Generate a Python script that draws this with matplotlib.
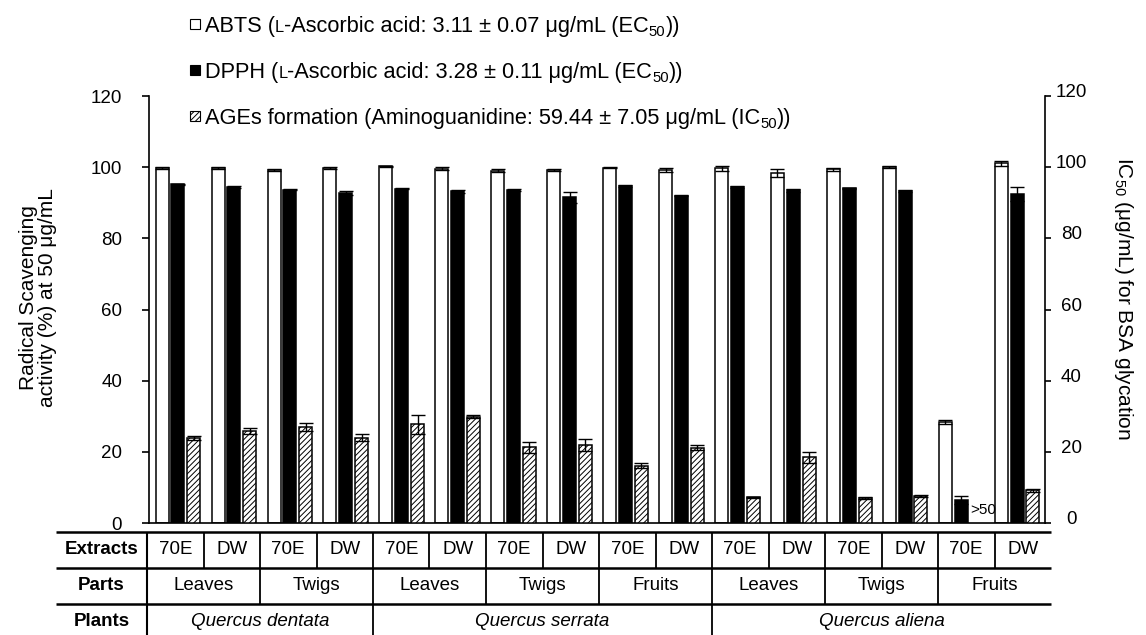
import numpy as np
import matplotlib
matplotlib.use('Agg')
import matplotlib.pyplot as plt
from matplotlib.patches import Rectangle
from matplotlib.lines import Line2D
import matplotlib.transforms as mtransforms

plt.rcParams['font.family'] = ['Liberation Sans', 'DejaVu Sans']
plt.rcParams['mathtext.fontset'] = 'custom'
plt.rcParams['mathtext.rm'] = 'Liberation Sans'
plt.rcParams['mathtext.it'] = 'Liberation Sans:italic'
plt.rcParams['mathtext.bf'] = 'Liberation Sans:bold'
plt.rcParams['hatch.linewidth'] = 0.7

# ---------------- data ----------------
extracts = ['70E', 'DW'] * 8
parts = ['Leaves', 'Twigs', 'Leaves', 'Twigs', 'Fruits', 'Leaves', 'Twigs', 'Fruits']
plants = ['Quercus dentata', 'Quercus serrata', 'Quercus aliena']
plant_spans = [4, 6, 6]

abts = [99.7, 99.7, 99.2, 99.8, 100.3, 99.6, 99.0, 99.3, 99.9, 99.2, 99.7, 98.3, 99.5, 100.1, 28.4, 101.1]
abts_err = [0.3, 0.3, 0.2, 0.3, 0.2, 0.4, 0.4, 0.3, 0.1, 0.5, 0.6, 1.1, 0.4, 0.2, 0.6, 0.6]
dpph = [95.2, 94.5, 93.7, 92.7, 94.0, 93.3, 93.6, 91.6, 94.7, 92.0, 94.5, 93.5, 94.1, 93.3, 6.4, 92.4]
dpph_err = [0.2, 0.2, 0.2, 0.6, 0.2, 0.4, 0.2, 1.5, 0.3, 0.2, 0.3, 0.3, 0.2, 0.2, 1.1, 2.0]
ages = [23.9, 25.9, 27.0, 24.0, 27.7, 29.9, 21.3, 21.9, 16.1, 21.2, 7.2, 18.5, 7.1, 7.6, np.nan, 9.2]
ages_err = [0.6, 0.8, 1.0, 0.9, 2.6, 0.4, 1.6, 1.6, 0.7, 0.6, 0.2, 1.5, 0.3, 0.3, np.nan, 0.4]
ages_note = {14: '>50'}

yticks = [0, 20, 40, 60, 80, 100, 120]

# ---------------- figure ----------------
W, H = 1146, 635
fig = plt.figure(figsize=(W / 100, H / 100), dpi=100)


def fx(px):
    return px / W


def fy(py):
    return 1 - py / H


ax = fig.add_axes([fx(148.5), fy(523), fx(1045) - fx(148.5), fy(96.2) - fy(523)])
ax2 = ax.twinx()

n = len(abts)
x = np.arange(n)
w = 0.232
d = 0.283
ekw = dict(ecolor='black', elinewidth=1.0, capsize=5, capthick=1.0)

ax.bar(x - d, abts, w, yerr=abts_err, color='white', edgecolor='black', linewidth=1.1,
       error_kw=ekw, zorder=2)
ax.bar(x, dpph, w, yerr=dpph_err, color='black', edgecolor='black', linewidth=1.1,
       error_kw=ekw, zorder=2)
ages_a = np.array(ages, dtype=float)
ages_e = np.array(ages_err, dtype=float)
ok = ~np.isnan(ages_a)
ax2.bar(x[ok] + d, ages_a[ok], w, yerr=ages_e[ok], color='white', edgecolor='black',
        linewidth=1.1, hatch='//////', error_kw=ekw, zorder=2)
for i, s in ages_note.items():
    ax2.text(i + d - w / 2, 3.7, s, fontsize=11, ha='left', va='center')

for a in (ax, ax2):
    a.set_ylim(0, 120)
    a.set_xlim(-0.527, 15.5)
    a.set_yticks(yticks)
    a.set_xticks([])
    a.spines['top'].set_visible(False)
    for sp in a.spines.values():
        sp.set_linewidth(1.2)
ax2.spines['left'].set_visible(False)
ax2.spines['bottom'].set_visible(False)
ax.spines['right'].set_visible(False)

ax.tick_params(axis='y', direction='out', length=5, width=1.2, pad=14, labelsize=13.5)
ax2.tick_params(axis='y', direction='out', length=4, width=1.2, pad=15, labelsize=13.5)
off = mtransforms.ScaledTranslation(0, 4 / 72, fig.dpi_scale_trans)
for lab in ax2.get_yticklabels():
    lab.set_ha('center')
    lab.set_transform(lab.get_transform() + off)

fig.text(fx(38), fy(298), 'Radical Scavenging\nactivity (%) at 50 μg/mL', rotation=90,
         ha='center', va='center', fontsize=15, linespacing=0.95, multialignment='center')
fig.text(fx(1124), fy(298), r'IC$_{\mathregular{50}}$ (μg/mL) for BSA glycation', rotation=270,
         ha='center', va='center', fontsize=15)

# ---------------- legend ----------------
renderer = fig.canvas.get_renderer()
LFS = 15.7


def rich_line(x0, ycen, pieces):
    xx = x0
    base = ycen + 7.8
    for s, fs, dy in pieces:
        t = fig.text(fx(xx), fy(base + dy), s, fontsize=fs, va='baseline', ha='left')
        bb = t.get_window_extent(renderer=renderer)
        xx += bb.width


leg = [
    (24, dict(facecolor='white', edgecolor='black'), 'ABTS (', '-Ascorbic acid: 3.11 ± 0.07 μg/mL (EC', '))'),
    (70, dict(facecolor='black', edgecolor='black'), 'DPPH (', '-Ascorbic acid: 3.28 ± 0.11 μg/mL (EC', '))'),
]
for yc, sty, a1, a2, a3 in leg:
    fig.add_artist(Rectangle((fx(190), fy(yc + 5)), 10 / W, 10 / H, transform=fig.transFigure,
                             linewidth=0.8, **sty))
    rich_line(205, yc, [(a1, LFS, 0), ('L', LFS * 0.75, 0), (a2, LFS, 0), ('50', LFS * 0.68, 4.5), (a3, LFS, 0)])
fig.add_artist(Rectangle((fx(190), fy(116 + 5)), 10 / W, 10 / H, transform=fig.transFigure,
                         linewidth=0.8, facecolor='white', edgecolor='black', hatch='//////'))
rich_line(205, 116, [('AGEs formation (Aminoguanidine: 59.44 ± 7.05 μg/mL (IC', LFS, 0),
                     ('50', LFS * 0.68, 4.5), ('))', LFS, 0)])

# ---------------- table ----------------
TL, TH, TR = 56, 147, 1051
r0, r1, r2, r3 = 532, 568, 604, 640
cw = (TR - TH) / n
TFS = 13.5


def line(xs, ys, lw=1.5):
    fig.add_artist(Line2D([fx(v) for v in xs], [fy(v) for v in ys], transform=fig.transFigure,
                          color='black', linewidth=lw, solid_capstyle='butt'))


for r in (r0, r1, r2):
    line([TL, TR], [r, r], 1.8)
line([TH, TH], [r0, r3], 1.5)
for k in range(1, n):
    line([TH + k * cw] * 2, [r0, r1], 1.3)
    if k % 2 == 0:
        line([TH + k * cw] * 2, [r1, r2], 1.3)
cum = np.cumsum(plant_spans)[:-1]
for k in cum:
    line([TH + k * cw] * 2, [r2, r3], 1.3)

hx = (TL + TH) / 2
fig.text(fx(hx), fy((r0 + r1) / 2), 'Extracts', fontweight='bold', ha='center', va='center', fontsize=TFS)
fig.text(fx(hx), fy((r1 + r2) / 2), 'Parts', fontweight='bold', ha='center', va='center', fontsize=TFS)
fig.text(fx(hx), fy(621), 'Plants', fontweight='bold', ha='center', va='center', fontsize=TFS)
for k, s in enumerate(extracts):
    fig.text(fx(TH + (k + 0.5) * cw), fy((r0 + r1) / 2), s, ha='center', va='center', fontsize=TFS)
for k, s in enumerate(parts):
    fig.text(fx(TH + (2 * k + 1) * cw), fy((r1 + r2) / 2), s, ha='center', va='center', fontsize=TFS)
start = 0
for s, sp in zip(plants, plant_spans):
    fig.text(fx(TH + (start + sp / 2) * cw), fy(621), s, ha='center', va='center', fontsize=TFS,
             style='italic')
    start += sp

fig.savefig('out.png', dpi=100)
